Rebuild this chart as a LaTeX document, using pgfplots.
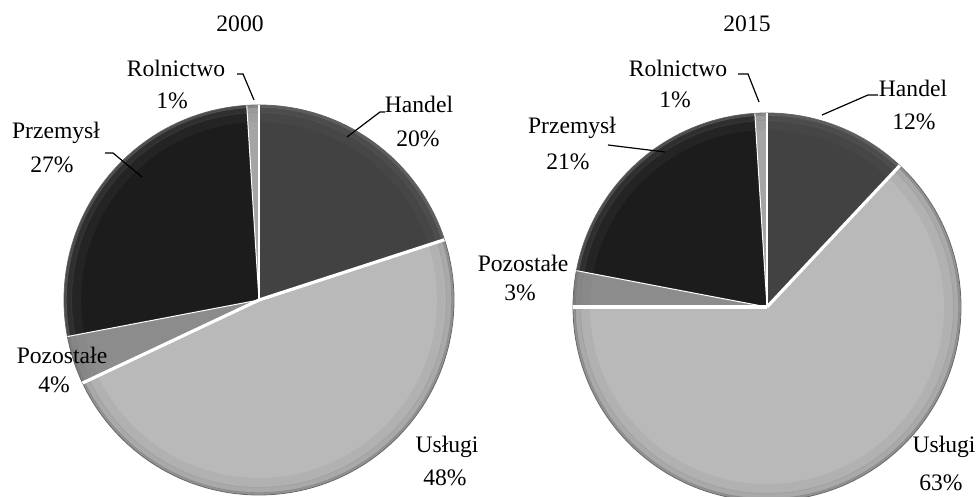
\documentclass[border=0pt]{standalone}
\usepackage{pgfplots}
\pgfplotsset{compat=1.18}
\usepackage{fontspec}
\setmainfont{Liberation Serif}
\definecolor{handel}{HTML}{424242}
\definecolor{uslugi}{HTML}{B9B9B9}
\definecolor{pozostale}{HTML}{8C8C8C}
\definecolor{przemysl}{HTML}{1C1C1C}
\definecolor{rolnictwo}{HTML}{A5A5A5}
% slice: cx, cy, r, cumulative share before (%), share (%), colour
\newcommand\slice[6]{%
  \addplot[draw=none, fill=#6, domain={90-3.6*(#4+#5)}:{90-3.6*(#4)}, samples=90, variable=\t]
    ({#1+#3*cos(\t)},{#2+#3*sin(\t)}) -- (axis cs:#1,#2) -- cycle;}
% separator at cumulative share
\newcommand\sep[5]{%
  \draw[white, line width=#5] (axis cs:#1,#2) -- (axis cs:{#1+#3*cos(90-3.6*(#4))},{#2+#3*sin(90-3.6*(#4))});}
\newcommand\rim[3]{%
  \draw[black!55, line width=1.2pt, opacity=.55] (axis cs:#1,#2) circle[radius=#3-1.5];
  \draw[black!55, line width=3pt, opacity=.22] (axis cs:#1,#2) circle[radius=#3-5];
  \draw[black!55, line width=5pt, opacity=.10] (axis cs:#1,#2) circle[radius=#3-12];
  \draw[black!60, line width=0.4pt] (axis cs:#1,#2) circle[radius=#3];}
\begin{document}
\begin{tikzpicture}
\begin{axis}[x=0.5pt, y=0.5pt, xmin=0, xmax=979, ymin=0, ymax=497,
  hide axis, axis on top=false]
% ---- 2000: Handel 20, Uslugi 48, Pozostale 4, Przemysl 27, Rolnictwo 1
\slice{259}{197}{195}{0}{20}{handel}
\slice{259}{197}{195}{20}{48}{uslugi}
\slice{259}{197}{195}{68}{4}{pozostale}
\slice{259}{197}{195}{72}{27}{przemysl}
\slice{259}{197}{195}{99}{1}{rolnictwo}
\rim{259}{197}{195}
\sep{259}{197}{195}{0}{0.6pt}
\sep{259}{197}{195}{20}{1.6pt}
\sep{259}{197}{195}{68}{1.6pt}
\sep{259}{197}{195}{72}{0.5pt}
\sep{259}{197}{195}{99}{0.5pt}
% ---- 2015: Handel 12, Uslugi 63, Pozostale 3, Przemysl 21, Rolnictwo 1
\slice{767}{190}{194}{0}{12}{handel}
\slice{767}{190}{194}{12}{63}{uslugi}
\slice{767}{190}{194}{75}{3}{pozostale}
\slice{767}{190}{194}{78}{21}{przemysl}
\slice{767}{190}{194}{99}{1}{rolnictwo}
\rim{767}{190}{194}
\sep{767}{190}{194}{0}{0.6pt}
\sep{767}{190}{194}{12}{1.6pt}
\sep{767}{190}{194}{75}{2pt}
\sep{767}{190}{194}{78}{0.5pt}
\sep{767}{190}{194}{99}{0.5pt}
% ---- labels
\begin{scope}[every node/.style={font=\fontsize{11.8}{14}\selectfont, inner sep=0pt}]
\node at (axis cs:240,473) {2000};
\node at (axis cs:747,473) {2015};
% left
\node at (axis cs:176,429) {Rolnictwo};
\node at (axis cs:172,396) {1\%};
\draw[line width=0.6pt] (axis cs:237,423) -- (axis cs:243,423) -- (axis cs:254,397);
\node at (axis cs:419,393) {Handel};
\node at (axis cs:418,358) {20\%};
\draw[line width=0.6pt] (axis cs:385,385) -- (axis cs:380,385) -- (axis cs:347,360);
\node at (axis cs:56,364) {Przemysł};
\node at (axis cs:52,332) {27\%};
\draw[line width=0.6pt] (axis cs:105,344) -- (axis cs:113,344) -- (axis cs:142,320);
\node at (axis cs:62,142) {Pozostałe};
\node at (axis cs:54,112) {4\%};
\node at (axis cs:447,50) {Usługi};
\node at (axis cs:445,19) {48\%};
% right
\node at (axis cs:678,429) {Rolnictwo};
\node at (axis cs:675,397) {1\%};
\draw[line width=0.6pt] (axis cs:738,423) -- (axis cs:748,423) -- (axis cs:759,395);
\node at (axis cs:913,409) {Handel};
\node at (axis cs:914,375) {12\%};
\draw[line width=0.6pt] (axis cs:878,402) -- (axis cs:868,402) -- (axis cs:822,382);
\node at (axis cs:572,369) {Przemysł};
\node at (axis cs:568,335) {21\%};
\draw[line width=0.6pt] (axis cs:608,352) -- (axis cs:665,345);
\node at (axis cs:523,234) {Pozostałe};
\node at (axis cs:520,204) {3\%};
\node at (axis cs:944,50) {Usługi};
\node at (axis cs:941,14) {63\%};
\end{scope}
\end{axis}
\pgfresetboundingbox
\path[use as bounding box] (current axis.south west) rectangle (current axis.north east);
\end{tikzpicture}
\end{document}
